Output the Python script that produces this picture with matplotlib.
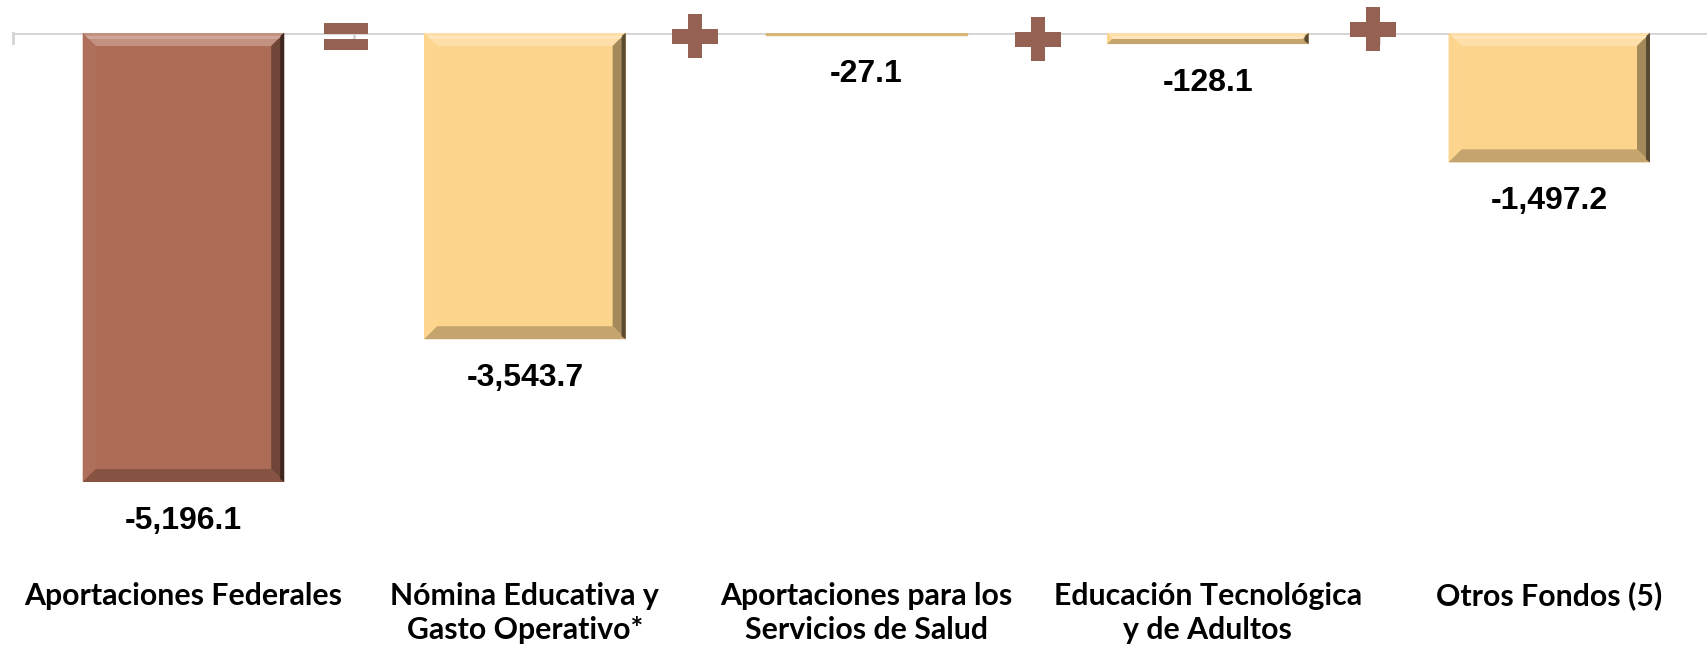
import matplotlib
matplotlib.use("Agg")
import matplotlib.pyplot as plt
from matplotlib.patches import Rectangle, Polygon
from matplotlib.transforms import IdentityTransform
import matplotlib.colors as mcolors

categories = ["Aportaciones Federales", "Nómina Educativa y\nGasto Operativo*",
              "Aportaciones para los\nServicios de Salud", "Educación Tecnológica\ny de Adultos",
              "Otros Fondos (5)"]
values = [-5196.1, -3543.7, -27.1, -128.1, -1497.2]
value_labels = ["-5,196.1", "-3,543.7", "-27.1", "-128.1", "-1,497.2"]
operators = ["=", "+", "+", "+"]

BROWN = "#ad6c56"
YELLOW = "#fdd48c"
OPC = "#946152"
bar_colors = [BROWN, YELLOW, YELLOW, YELLOW, YELLOW]

W, H, DPI = 1708, 645, 100
fig = plt.figure(figsize=(W / DPI, H / DPI), dpi=DPI)
axis_top_px = 33
ax_left = 12.7
ax_right = 1720.0
ax = fig.add_axes([ax_left / W, 0, (W - ax_left) / W, (H - axis_top_px) / H])
px_per_unit = 449 / 5196.1
ax.set_ylim(-(H - axis_top_px) / px_per_unit, 0)
span = (ax_right - ax_left) / 5
ax.set_xlim(-0.5, -0.5 + (W - ax_left) / span)
for s in ax.spines.values():
    s.set_visible(False)
ax.set_yticks([])
ax.set_xticks([])

font_num = ["Liberation Sans", "DejaVu Sans"]
font_cat = ["Lato", "Liberation Sans", "DejaVu Sans"]

x = list(range(len(values)))
bars = ax.bar(x, values, width=0.59, color=bar_colors, zorder=2)

# axis line with tick marks at category boundaries
ax.axhline(0, color="#d4d4d4", lw=2, zorder=1)
for b in [i - 0.5 for i in range(len(values) + 1)]:
    ax.plot([b, b], [0, -10 / px_per_unit], color="#d4d4d4", lw=2, zorder=1, clip_on=False)

fig.canvas.draw()

def shade(c, f):
    r, g, b = mcolors.to_rgb(c)
    if f >= 0:
        return (r + (1 - r) * f, g + (1 - g) * f, b + (1 - b) * f)
    return (r * (1 + f), g * (1 + f), b * (1 + f))

def add_poly(pts, col, z=3):
    fig.patches.append(Polygon(pts, closed=True, facecolor=col, edgecolor="none",
                               transform=IdentityTransform(), figure=fig, zorder=z))

# bevel effect on bars (derived from bar extents)
for rect, c in zip(bars, bar_colors):
    bb = rect.get_window_extent()
    x0, x1, y0, y1 = bb.x0, bb.x1, bb.y0, bb.y1
    h = y1 - y0
    bv = min(13, h / 2)
    if h < 4:
        rect.set_color(shade(c, -0.15))
        continue
    add_poly([(x0, y1), (x1, y1), (x1 - bv, y1 - bv), (x0 + bv, y1 - bv)], shade(c, 0.25))
    add_poly([(x0, y0), (x0, y1), (x0 + bv, y1 - bv), (x0 + bv, y0 + bv)], shade(c, 0.03))
    add_poly([(x1, y0), (x1, y1), (x1 - bv, y1 - bv), (x1 - bv, y0 + bv)], shade(c, -0.35))
    add_poly([(x0, y0), (x1, y0), (x1 - bv, y0 + bv), (x0 + bv, y0 + bv)], shade(c, -0.22))
    # darker outer rim on right side
    add_poly([(x1 - 4, y0 + 3), (x1, y0), (x1, y1), (x1 - 4, y1 - 3)], shade(c, -0.65))
    # highlight strip just under top edge
    add_poly([(x0 + 3, y1 - 3), (x1 - 3, y1 - 3), (x1 - 6, y1 - 6), (x0 + 6, y1 - 6)], shade(c, 0.4))

# value labels
for xi, v, lab in zip(x, values, value_labels):
    ax.annotate(lab, (xi, v), xytext=(0, -47 * 72 / DPI), textcoords="offset points",
                ha="center", va="baseline", fontsize=23, fontweight="bold",
                family=font_num, color="black", annotation_clip=False)

# category labels (one text per line)
for xi, cat in zip(x, categories):
    for k, line in enumerate(cat.split("\n")):
        base_px = 605 + 34 * k
        ax.text(xi, (H - base_px) / (H - axis_top_px), line,
                transform=ax.get_xaxis_transform(), ha="center", va="baseline",
                fontsize=21.8, fontweight="bold", family=font_cat, color="black")

# operators between bars
op_dx = [-8, -1, 1, -6]
op_dy = [36, 36, 39, 29]
for i, (op, dx, dy) in enumerate(zip(operators, op_dx, op_dy)):
    cx = ax.transData.transform((i + 0.5, 0))[0] + dx
    cy = H - dy
    shapes = []
    if op == "=":
        shapes.append((cx - 22, cy + 2.5, 44, 11))
        shapes.append((cx - 22, cy - 13.5, 44, 11))
    else:
        shapes.append((cx - 23, cy - 7.5, 46, 15))
        shapes.append((cx - 7, cy - 22, 14, 44))
    for (rx, ry, rw, rh) in shapes:
        fig.patches.append(Rectangle((rx, ry), rw, rh, facecolor=OPC, edgecolor="none",
                                     transform=IdentityTransform(), figure=fig, zorder=4))

fig.savefig("out.png", dpi=DPI)
